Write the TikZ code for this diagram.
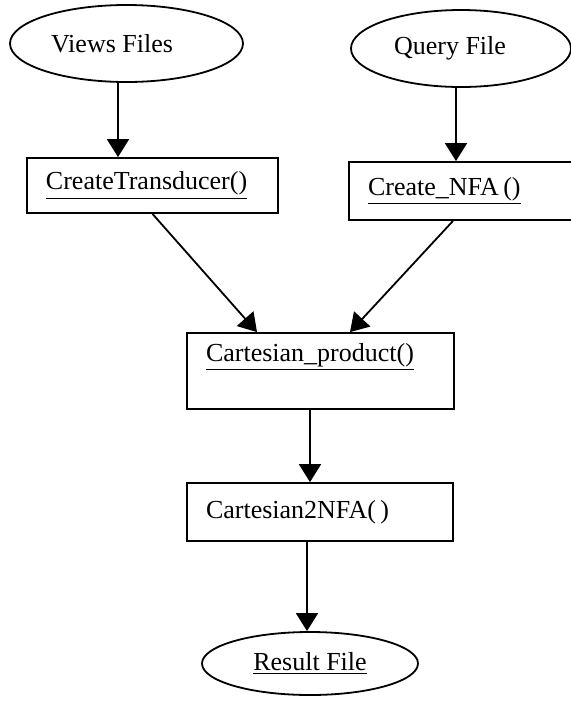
\documentclass[tikz,border=0pt]{standalone}
\usepackage{fontspec}
\setmainfont{Liberation Serif}
\usepackage{tikz}
\usetikzlibrary{arrows.meta,shapes.geometric}

\begin{document}
\begin{tikzpicture}[x=0.5pt,y=-0.5pt,
  line width=0.9pt,
  file/.style={draw,ellipse,inner sep=0pt,font=\fontsize{13}{15}\selectfont},
  func/.style={draw,rectangle,inner xsep=9.5pt,align=left,font=\fontsize{13}{15}\selectfont},
  arr/.style={-{Triangle[length=9pt,width=11pt]}}]
 \useasboundingbox (0,0) rectangle (571,708);
 % input files
 \node[file,minimum width=116.5pt,minimum height=38.5pt] (views) at (126.5,43.5) {Views Files\hspace*{14.5pt}};
 \node[file,minimum width=110pt,minimum height=38.5pt] (qry) at (461,48.5) {Query File\hspace*{11pt}};
 % functions
 \node[func,text width=106.5pt,minimum height=27.5pt] (tr) at (152.5,185.5) {\underline{CreateTransducer()}};
 \node[func,text width=94pt,minimum height=29pt] (nfa) at (462,191) {\underline{Create\_NFA\,()}};
 \node[func,text width=114.5pt,text height=10pt,text depth=20pt,inner ysep=4pt] (cp) at (320.5,371) {\underline{Cartesian\_product()}};
 \node[func,text width=114pt,minimum height=29pt] (c2n) at (320,512) {Cartesian2NFA(\,)};
 % output
 \node[file,minimum width=108pt,minimum height=31.5pt] (res) at (310,663.5) {\underline{Result File}};
 \draw[arr] ([xshift=-4.25pt]views.south) -- ([xshift=-4.25pt]views.south |- tr.north);
 \draw[arr] ([xshift=-2.5pt]qry.south) -- ([xshift=-2.5pt]qry.south |- nfa.north);
 \draw[arr] (tr.south) -- ([xshift=-31.75pt]cp.north);
 \draw[arr] ([xshift=-4.5pt]nfa.south) -- ([xshift=14.75pt]cp.north);
 \draw[arr] ([xshift=-5.25pt]cp.south) -- ([xshift=-5.25pt]cp.south |- c2n.north);
 \draw[arr] ([xshift=-6.5pt]c2n.south) -- ([xshift=-6.5pt]c2n.south |- res.north);
\end{tikzpicture}
\end{document}
